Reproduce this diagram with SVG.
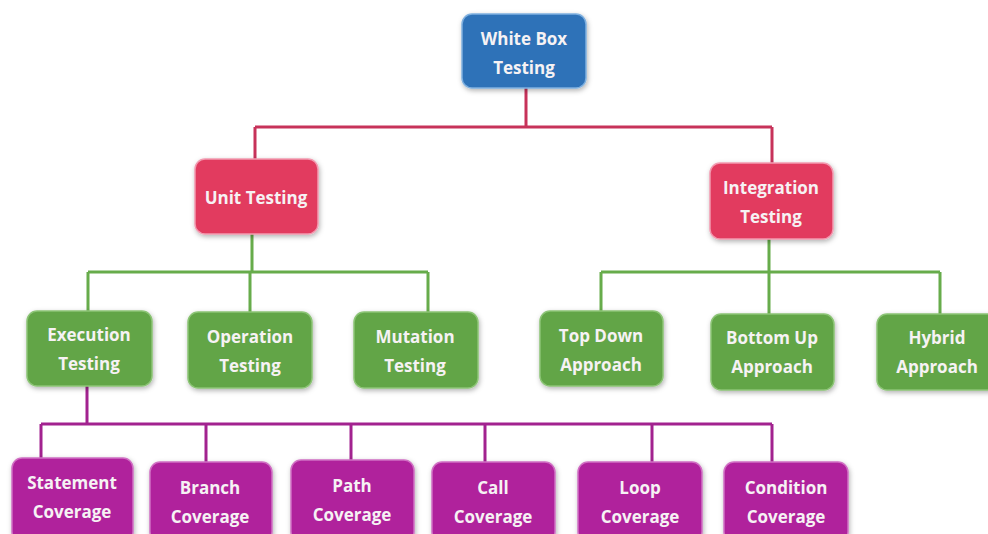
<svg xmlns="http://www.w3.org/2000/svg" width="988" height="534" viewBox="0 0 988 534">
  <defs>
    <filter id="shadow" x="-20%" y="-20%" width="140%" height="150%">
      <feDropShadow dx="1" dy="2" stdDeviation="2.5" flood-color="#000" flood-opacity="0.3"/>
    </filter>
  </defs>
  <style>
    .box { stroke-width: 1.5; filter: url(#shadow); }
    .root { fill: #2f72b8; stroke: #7fb0df; }
    .red { fill: #e23a5f; stroke: #f29ab0; }
    .green { fill: #62a546; stroke: #8cc476; }
    .purple { fill: #b0209c; stroke: #d06fc3; }
    text { font-family: "Open Sans", "Liberation Sans", sans-serif; font-weight: bold; font-size: 17px; fill: #f6f2f4; text-anchor: middle; }
    .wire { fill: none; stroke-width: 3; }
    .w-red { stroke: #c7325a; }
    .w-green { stroke: #67ac4b; }
    .w-purple { stroke: #a2228f; }
  </style>
  <rect width="988" height="534" fill="#ffffff"/>

  <!-- connectors -->
  <g id="connectors">
    <path class="wire w-red" d="M526 88 V127 M255 127 H772 M255 127 V159 M772 127 V163"/>
    <path class="wire w-green" d="M252 234 V272 M88 272 H428 M88 272 V311 M250 272 V312 M428 272 V312"/>
    <path class="wire w-green" d="M769 239 V272 M601 272 H940 M601 272 V311 M769 272 V314 M940 272 V314"/>
    <path class="wire w-purple" d="M87 386 V424 M41 424 H772 M41 424 V458 M206 424 V462 M351 424 V460 M485 424 V462 M652 424 V462 M772 424 V462"/>
  </g>

  <!-- level 0 -->
  <g id="white-box-testing">
    <rect class="box root" x="462" y="14" width="124" height="74" rx="10"/>
    <text x="524" y="45">White Box</text>
    <text x="524" y="74">Testing</text>
  </g>

  <!-- level 1 -->
  <g id="unit-testing">
    <rect class="box red" x="195" y="159" width="123" height="75" rx="10"/>
    <text x="256" y="204">Unit Testing</text>
  </g>
  <g id="integration-testing">
    <rect class="box red" x="710" y="163" width="123" height="76" rx="10"/>
    <text x="771" y="194">Integration</text>
    <text x="771" y="223">Testing</text>
  </g>

  <!-- level 2 -->
  <g id="execution-testing">
    <rect class="box green" x="27" y="311" width="125" height="75" rx="10"/>
    <text x="89" y="341">Execution</text>
    <text x="89" y="370">Testing</text>
  </g>
  <g id="operation-testing">
    <rect class="box green" x="188" y="312" width="124" height="76" rx="10"/>
    <text x="250" y="343">Operation</text>
    <text x="250" y="372">Testing</text>
  </g>
  <g id="mutation-testing">
    <rect class="box green" x="354" y="312" width="124" height="76" rx="10"/>
    <text x="415" y="343">Mutation</text>
    <text x="415" y="372">Testing</text>
  </g>
  <g id="top-down-approach">
    <rect class="box green" x="540" y="311" width="123" height="75" rx="10"/>
    <text x="601" y="342">Top Down</text>
    <text x="601" y="371">Approach</text>
  </g>
  <g id="bottom-up-approach">
    <rect class="box green" x="711" y="314" width="123" height="76" rx="10"/>
    <text x="772" y="344">Bottom Up</text>
    <text x="772" y="373">Approach</text>
  </g>
  <g id="hybrid-approach">
    <rect class="box green" x="877" y="314" width="123" height="76" rx="10"/>
    <text x="937" y="344">Hybrid</text>
    <text x="937" y="373">Approach</text>
  </g>

  <!-- level 3 -->
  <g id="statement-coverage">
    <rect class="box purple" x="12" y="458" width="121" height="84" rx="10"/>
    <text x="72" y="489">Statement</text>
    <text x="72" y="518">Coverage</text>
  </g>
  <g id="branch-coverage">
    <rect class="box purple" x="150" y="462" width="122" height="80" rx="10"/>
    <text x="210" y="494">Branch</text>
    <text x="210" y="523">Coverage</text>
  </g>
  <g id="path-coverage">
    <rect class="box purple" x="291" y="460" width="123" height="82" rx="10"/>
    <text x="352" y="492">Path</text>
    <text x="352" y="521">Coverage</text>
  </g>
  <g id="call-coverage">
    <rect class="box purple" x="432" y="462" width="123" height="80" rx="10"/>
    <text x="493" y="494">Call</text>
    <text x="493" y="523">Coverage</text>
  </g>
  <g id="loop-coverage">
    <rect class="box purple" x="578" y="462" width="124" height="80" rx="10"/>
    <text x="640" y="494">Loop</text>
    <text x="640" y="523">Coverage</text>
  </g>
  <g id="condition-coverage">
    <rect class="box purple" x="724" y="462" width="124" height="80" rx="10"/>
    <text x="786" y="494">Condition</text>
    <text x="786" y="523">Coverage</text>
  </g>
</svg>
